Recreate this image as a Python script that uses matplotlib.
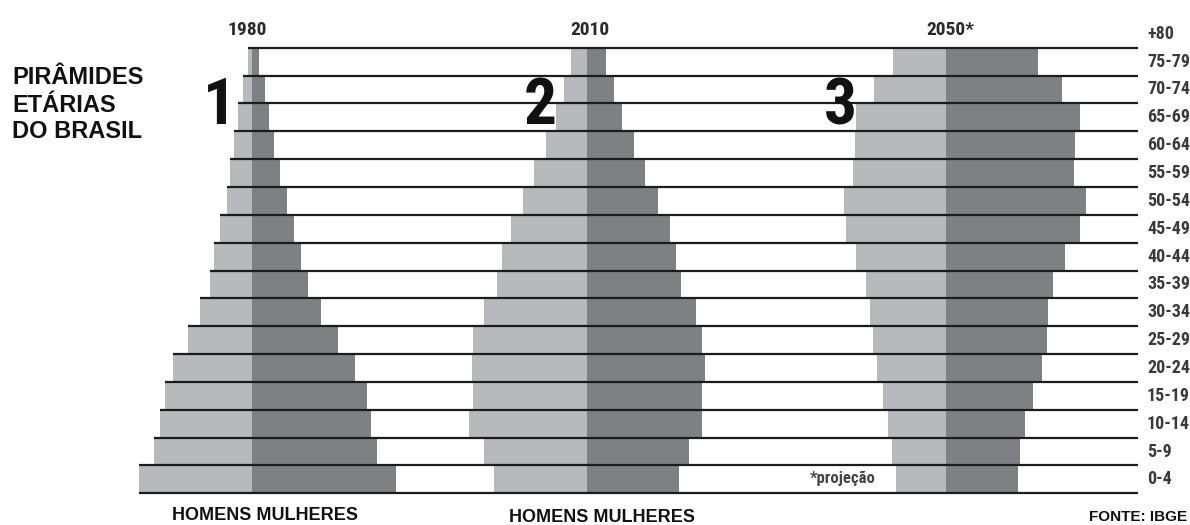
import matplotlib.pyplot as plt
from matplotlib import font_manager
import numpy as np

# === Age groups (bottom to top) ===
ages = ["0-4", "5-9", "10-14", "15-19", "20-24", "25-29", "30-34", "35-39",
        "40-44", "45-49", "50-54", "55-59", "60-64", "65-69", "70-74", "75-79"]
top_label = "+80"

years = ["1980", "2010", "2050*"]
numbers = ["1", "2", "3"]

# === Bar widths per age group (drawing units) ===
homens_1980 = [113, 98, 92, 87, 79, 64, 52, 42, 38, 32, 25, 22, 18, 14, 9, 4]
mulheres_1980 = [144, 125, 119, 115, 103, 86, 69, 56, 49, 42, 35, 28, 22, 17, 13, 7]

homens_2010 = [93, 103, 118, 114, 115, 114, 103, 90, 85, 76, 64, 53, 41, 31, 23, 16]
mulheres_2010 = [92, 102, 115, 115, 118, 115, 109, 94, 89, 83, 71, 58, 47, 35, 27, 19]

homens_2050 = [50, 54, 58, 63, 69, 73, 76, 80, 90, 100, 102, 93, 91, 90, 72, 53]
mulheres_2050 = [72, 74, 79, 87, 96, 101, 102, 107, 119, 134, 140, 128, 129, 134, 116, 92]

# === Layout ===
W, H = 1190, 525
centers = [252, 587, 946]
line_right = 1138
y_bottom_px, y_top_px = 493.3, 47.7
unit = (y_bottom_px - y_top_px) / len(ages)

light = "#b8b9bc"
dark = "#7f8084"
sans = ["Liberation Sans", "DejaVu Sans"]

# condensed face for the small labels if one is installed
installed = {f.name for f in font_manager.fontManager.ttflist}
cond = next((n for n in ["Liberation Sans Narrow", "DejaVu Sans Condensed",
                         "Roboto Condensed"] if n in installed), None)
if cond:
    narrow, small_size = [cond, "DejaVu Sans"], 13
else:
    narrow, small_size = sans, 11

fig = plt.figure(figsize=(W / 100, H / 100), dpi=100)
ax = fig.add_axes([0, 0, 1, 1])
ax.set_xlim(0, W)
ax.set_ylim(-(H - y_bottom_px) / unit, len(ages) + y_top_px / unit)
ax.axis("off")

y = np.arange(len(ages))
pyramids = [(homens_1980, mulheres_1980), (homens_2010, mulheres_2010),
            (homens_2050, mulheres_2050)]
for c, (h, m) in zip(centers, pyramids):
    h = np.array(h)
    m = np.array(m)
    ax.barh(y, h, left=c - h, height=1, align="edge", color=light, linewidth=0)
    ax.barh(y, m, left=c, height=1, align="edge", color=dark, linewidth=0)

# horizontal lines start at the left edge of the 1980 bar just below
left_1980 = centers[0] - np.array(homens_1980)
starts = np.concatenate([[left_1980[0]], left_1980])
levels = np.arange(len(ages) + 1)
ax.hlines(levels, starts, line_right, color="#1c1c1c", lw=1.6, zorder=3)

# age labels on the right
for i, lab in enumerate(ages + [top_label]):
    ax.text(1147, i + 0.5, lab, ha="left", va="center", fontsize=small_size,
            family=narrow, fontweight="bold", color="#3a3a3a")

# year labels and big numbers
year_x = [247, 590, 950]
num_x = [219, 540, 840]
for yx, yr, nx, n in zip(year_x, years, num_x, numbers):
    fig.text(yx / W, 1 - 30 / H, yr, ha="center", va="center", fontsize=small_size + 1,
             family=narrow, fontweight="bold", color="#2a2a2a")
    fig.text(nx / W, 1 - 107 / H, n, ha="center", va="center", fontsize=47,
             family=narrow, fontweight="bold", color="#111111")

# title
for k, line in enumerate(["PIRÂMIDES", "ETÁRIAS", "DO BRASIL"]):
    fig.text(12 / W, 1 - (78 + 27 * k) / H, line, ha="left", va="center",
             fontsize=17, family=sans, fontweight="bold", color="#111111")

# bottom labels
fig.text(265 / W, 1 - 515 / H, "HOMENS MULHERES", ha="center", va="center",
         fontsize=13, family=sans, fontweight="bold", color="#111111")
fig.text(602 / W, 1 - 517 / H, "HOMENS MULHERES", ha="center", va="center",
         fontsize=13, family=sans, fontweight="bold", color="#111111")
fig.text(1187 / W, 1 - 517 / H, "FONTE: IBGE", ha="right", va="center",
         fontsize=11, family=sans, fontweight="bold", color="#111111")
fig.text(810 / W, 1 - 478 / H, "*projeção", ha="left", va="center",
         fontsize=small_size - 1, family=narrow, fontweight="bold", color="#444444")

fig.savefig("out.png", dpi=100, facecolor="white")
